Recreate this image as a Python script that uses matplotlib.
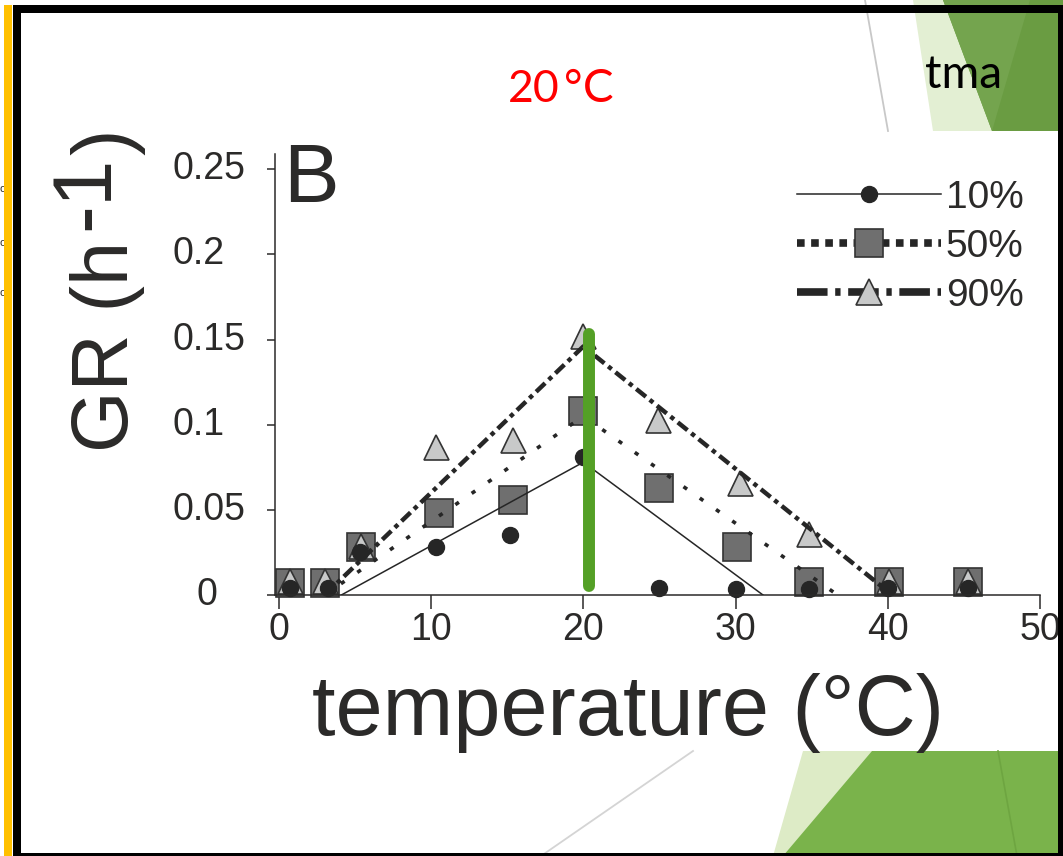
import matplotlib
matplotlib.use('Agg')
import matplotlib.pyplot as plt
from matplotlib.lines import Line2D
from matplotlib.patches import Polygon, Rectangle
from matplotlib.transforms import blended_transform_factory

# growth rate (h-1) vs temperature, three percentiles
temp_10 = [0.7, 3.2, 5.3, 10.3, 15.2, 20.0, 25.0, 30.0, 34.8, 40.0, 45.3]
gr_10 = [0.004, 0.004, 0.025, 0.028, 0.035, 0.081, 0.004, 0.0035, 0.0035, 0.004, 0.004]
temp_50 = [0.7, 3.0, 5.4, 10.5, 15.4, 20.0, 25.0, 30.1, 34.8, 40.1, 45.3]
gr_50 = [0.007, 0.007, 0.028, 0.048, 0.056, 0.108, 0.063, 0.028, 0.0077, 0.0077, 0.0077]
temp_90 = [0.7, 3.0, 5.4, 10.3, 15.4, 20.0, 24.9, 30.3, 34.8, 40.1, 45.3]
gr_90 = [0.008, 0.008, 0.029, 0.087, 0.091, 0.152, 0.103, 0.066, 0.036, 0.008, 0.008]

# fitted triangular models
fit_10_x = [4.1, 20.0, 31.8]
fit_10_y = [0, 0.078, 0]
fit_50_x = [3.0, 20.0, 36.7]
fit_50_y = [0, 0.105, 0]
fit_90_x = [3.0, 20.0, 40.3]
fit_90_y = [0, 0.146, 0]

# green marker at 20 C
mark_x = [20.4, 20.4]
mark_y = [0.005, 0.153]

series_labels = ['10%', '50%', '90%']
xticks = [0, 10, 20, 30, 40, 50]
yticks = [0, 0.05, 0.1, 0.15, 0.2, 0.25]
ytick_labels = ['0', '0.05', '0.1', '0.15', '0.2', '0.25']

W, H = 1063, 856
ink = '#2b2a29'
plt.rcParams['font.family'] = ['Liberation Sans', 'DejaVu Sans']

fig = plt.figure(figsize=(W / 100, H / 100), dpi=100)
fig.patch.set_facecolor('white')

def fx(px):
    return px / W

def fy(py):
    return 1 - py / H

# slide decoration behind everything
bg = fig.add_axes([0, 0, 1, 1], zorder=-1)
bg.set_xlim(0, W)
bg.set_ylim(H, 0)
bg.axis('off')
bg.add_patch(Polygon([(913, 0), (W, 0), (W, 131), (933, 131)], closed=True, fc='#e3efd3', ec='none'))
bg.add_patch(Polygon([(943, 0), (W, 0), (W, 131), (992, 131)], closed=True, fc='#6a9c42', ec='none'))
bg.add_patch(Polygon([(943, 0), (1030, 0), (992, 131)], closed=True, fc='#74a44e', ec='none'))
bg.add_patch(Polygon([(803, 751), (W, 751), (W, H), (773, H)], closed=True, fc='#ddebc6', ec='none'))
bg.add_patch(Polygon([(872, 751), (W, 751), (W, H), (783, H)], closed=True, fc='#7ab34b', ec='none'))
bg.plot([998, 1017], [751, H], color='#6ea541', lw=1.2)
bg.plot([865, 888], [0, 131], color='#c8c8c8', lw=1.3)
bg.plot([693, 541], [751, H], color='#d4d4d4', lw=1.3)

# chart
ax = fig.add_axes([fx(275), fy(595), fx(1040 - 275), (595 - 154) / H], zorder=1)
ax.set_facecolor('none')
ax.set_xlim(-0.26, 50)
ax.set_ylim(0, 0.259)

ax.plot(temp_50, gr_50, 's', ms=20, mfc='#6f6f6f', mec='#333333', mew=1.2, zorder=2, clip_on=False)
ax.plot(temp_90, gr_90, '^', ms=18, mfc='#c8c9c9', mec='#333333', mew=1.2, zorder=2.1, clip_on=False)
ax.plot(temp_10, gr_10, 'o', ms=11.5, color='#262626', zorder=2.2, clip_on=False)

ax.plot(fit_10_x, fit_10_y, '-', color='#262626', lw=1.1, zorder=3)
ax.plot(fit_50_x, fit_50_y, color='#262626', lw=2.6, dashes=(1.2, 4.3), zorder=3)
ax.plot(fit_90_x, fit_90_y, color='#262626', lw=3.2, dashes=(2.8, 1.1, 1.0, 1.1), zorder=3)

ax.plot(mark_x, mark_y, color='#54a026', lw=8.6, solid_capstyle='round', zorder=4, clip_on=False)

for side in ['top', 'right']:
    ax.spines[side].set_visible(False)
for side in ['left', 'bottom']:
    ax.spines[side].set_color(ink)
    ax.spines[side].set_linewidth(1.1)

ax.set_xticks(xticks)
ax.set_xticklabels([str(t) for t in xticks])
ax.set_yticks(yticks)
ax.set_yticklabels([])
ax.tick_params(axis='x', direction='out', length=10, width=1.1, pad=2, labelsize=27,
               colors=ink)
ax.tick_params(axis='y', direction='out', length=6, width=1.1, colors=ink)

# y tick labels sit left-aligned in the slide, the lone "0" a bit further right
ylab_tr = blended_transform_factory(fig.transFigure, ax.transData)
for val, lab in zip(yticks, ytick_labels):
    left = 197 if lab == '0' else 172
    ax.text(fx(left), val, lab, transform=ylab_tr, fontsize=27, color=ink,
            ha='left', va='center')

handles = [
    Line2D([], [], color='#262626', lw=1.1, marker='o', ms=11.5, mfc='#262626', mec='#262626'),
    Line2D([], [], color='#262626', lw=5.5, dashes=(1, 0.85), marker='s', ms=20,
           mfc='#6f6f6f', mec='#333333', mew=1.2),
    Line2D([], [], color='#262626', lw=5.5, dashes=(4, 1, 0.7, 1), marker='^', ms=19,
           mfc='#c8c9c9', mec='#333333', mew=1.2),
]
ax.legend(handles, series_labels, loc='upper left', bbox_to_anchor=(fx(797), fy(180)),
          bbox_transform=fig.transFigure, frameon=False, borderpad=0, borderaxespad=0,
          fontsize=28, handlelength=3.7, handletextpad=0.13, labelspacing=0.33,
          labelcolor=ink)

# labels placed like the slide
fig.text(fx(508), fy(102), '20', color='red', fontsize=32, family='Lato',
         ha='left', va='baseline')
fig.text(fx(564), fy(102), '°', color='red', fontsize=32, family='Lato',
         ha='left', va='baseline')
fig.text(fx(583), fy(102), 'C', color='red', fontsize=33, family='Lato',
         ha='left', va='baseline')
fig.text(fx(925), fy(88), 'tma', color='black', fontsize=33, family='Lato',
         ha='left', va='baseline')
fig.text(fx(283), fy(202), 'B', color=ink, fontsize=60, ha='left', va='baseline')
fig.text(fx(628), fy(735), 'temperature (°C)', color=ink, fontsize=61,
         ha='center', va='baseline')
fig.text(fx(128), fy(452), 'GR (h', color=ink, fontsize=57, rotation=90,
         rotation_mode='anchor', ha='left', va='baseline')
fig.text(fx(108), fy(230), '-1', color=ink, fontsize=60, rotation=90,
         rotation_mode='anchor', ha='left', va='baseline')
fig.text(fx(128), fy(155), ')', color=ink, fontsize=57, rotation=90,
         rotation_mode='anchor', ha='left', va='baseline')
for yy in [192, 246, 296]:
    fig.text(fx(0), fy(yy), 'o', color=ink, fontsize=8, ha='left', va='baseline')

# frame on top
fg = fig.add_axes([0, 0, 1, 1], zorder=10)
fg.set_facecolor('none')
fg.set_xlim(0, W)
fg.set_ylim(H, 0)
fg.axis('off')
fg.add_patch(Rectangle((4, 5), 8, H, fc='#ffc000', ec='none'))
fg.add_patch(Rectangle((13, 5), W - 13, 8, fc='black', ec='none'))
fg.add_patch(Rectangle((13, 5), 8, H, fc='black', ec='none'))
fg.add_patch(Rectangle((1058, 5), 5, H, fc='black', ec='none'))
fg.add_patch(Rectangle((13, 853), W - 13, 3, fc='black', ec='none'))

fig.savefig('out.png', dpi=100)
